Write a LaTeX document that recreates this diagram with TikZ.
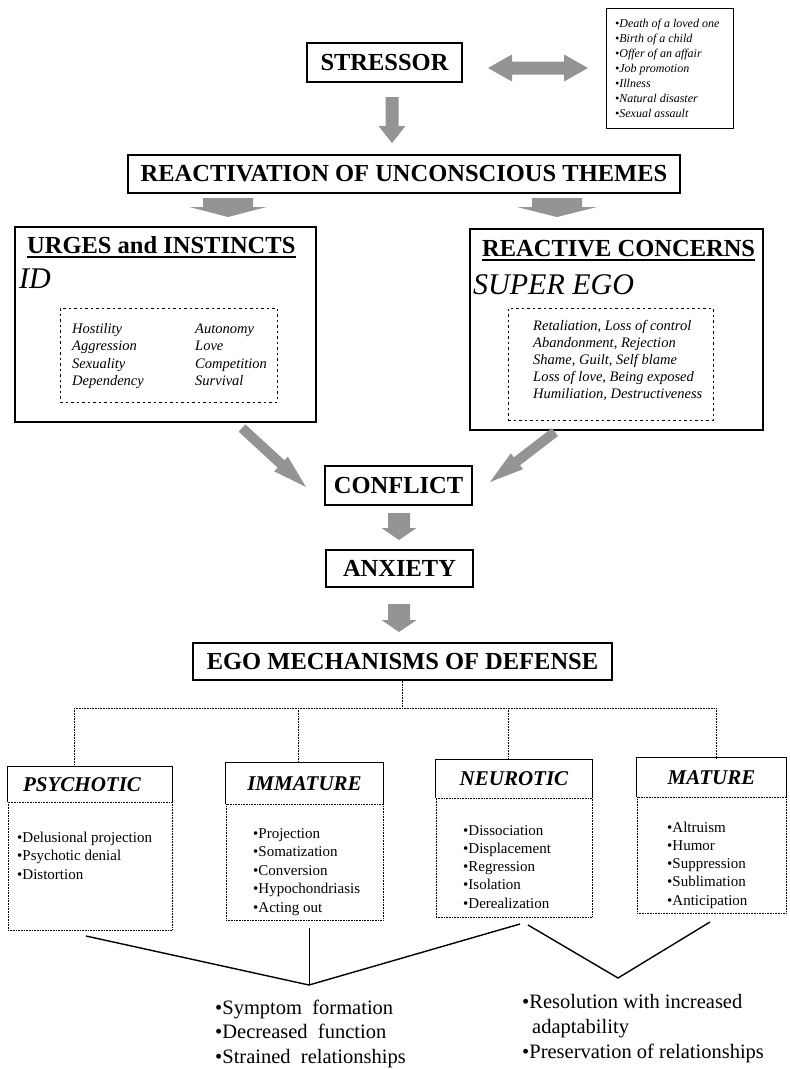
\documentclass[tikz,border=0pt]{standalone}
\usepackage{fontspec}
\setmainfont{Liberation Serif}
\usetikzlibrary{calc}

% block arrow: tail, tip, shaft half-width, head half-width, head length
\newcommand\blockarrow[5]{%
  \coordinate (ba-h) at ($(#2)!#5!(#1)$);
  \fill[arrowfill] ($(#1)!#3!90:(#2)$) -- ($(ba-h)!#3!90:(#2)$) -- ($(ba-h)!#4!90:(#2)$)
    -- (#2) -- ($(ba-h)!#4!-90:(#2)$) -- ($(ba-h)!#3!-90:(#2)$) -- ($(#1)!#3!-90:(#2)$) -- cycle;
}
% two-headed block arrow: end, end, shaft half-width, head half-width, head length
\newcommand\twinarrow[5]{%
  \coordinate (da-a) at ($(#1)!#5!(#2)$);
  \coordinate (da-b) at ($(#2)!#5!(#1)$);
  \fill[arrowfill] (#1) -- ($(da-a)!#4!90:(#2)$) -- ($(da-a)!#3!90:(#2)$)
    -- ($(da-b)!#3!-90:(#1)$) -- ($(da-b)!#4!-90:(#1)$) -- (#2)
    -- ($(da-b)!#4!90:(#1)$) -- ($(da-b)!#3!90:(#1)$)
    -- ($(da-a)!#3!-90:(#2)$) -- ($(da-a)!#4!-90:(#2)$) -- cycle;
}

\begin{document}
\begin{tikzpicture}[x=1pt,y=-1pt,
  box/.style={draw, line width=1.1pt, inner sep=0pt},
  bigtitle/.style={font=\fontsize{24.5}{28}\selectfont\bfseries},
  subtitle/.style={font=\fontsize{30}{34}\selectfont\itshape, anchor=base west, inner sep=0pt},
  arrowfill/.style={fill=black!42},
  treeline/.style={densely dotted, line width=0.6pt},
  dashbox/.style={draw, dash pattern=on 2.5pt off 3pt, line width=0.6pt, inner sep=0pt},
  item/.style={anchor=base west, inner sep=0pt},
  evitem/.style={item, font=\fontsize{12}{14}\selectfont\itshape},
  themeitem/.style={item, font=\fontsize{14.5}{17}\selectfont\itshape},
  defitem/.style={item, font=\fontsize{15}{18}\selectfont},
  outitem/.style={item, font=\fontsize{20.5}{24}\selectfont},
  cathead/.style={inner sep=0pt, font=\fontsize{21}{24}\selectfont\bfseries\itshape},
  catbody/.style={draw, densely dotted, line width=0.6pt, inner sep=0pt},
  vline/.style={line width=1.4pt}
]
\useasboundingbox (0,0) rectangle (790,1069);

% ---------- stressor and examples ----------
\node[box, bigtitle, minimum width=155pt, minimum height=39pt] (stressor) at (384.5,62.5) {STRESSOR};
\node[draw, line width=0.8pt, inner sep=0pt, minimum width=127pt, minimum height=120pt] (events) at (669.5,68) {};
\foreach \t [count=\i] in {Death of a loved one, Birth of a child, Offer of an affair,
    Job promotion, Illness, Natural disaster, Sexual assault}
  \node[evitem] (ev\i) at (615,{27+15*(\i-1)}) {\textbullet\t};

\coordinate (twinL) at (488,68);
\coordinate (twinR) at (588,68);
\twinarrow{twinL}{twinR}{6.5pt}{13.5pt}{24pt}

% ---------- reactivation ----------
\node[box, bigtitle, minimum width=552pt, minimum height=38pt] (react) at (404,174) {REACTIVATION OF UNCONSCIOUS THEMES};
\coordinate (sA) at (392,97);
\coordinate (sB) at (392,143);
\blockarrow{sA}{sB}{6.5pt}{13.5pt}{17pt}

\coordinate (rLa) at (228,198);
\coordinate (rLb) at (228,217);
\blockarrow{rLa}{rLb}{25pt}{38.5pt}{10pt}
\coordinate (rRa) at (557,198);
\coordinate (rRb) at (557,217);
\blockarrow{rRa}{rRb}{25pt}{40pt}{10pt}

% ---------- urges and instincts ----------
\node[box, minimum width=301pt, minimum height=195pt] (urges) at (165.5,324.5) {};
\node[bigtitle, anchor=base west, inner sep=0pt, text depth=0pt] (urgesT) at (27,253) {URGES and INSTINCTS};
\draw[line width=1.8pt] ([yshift=-3.5pt]urgesT.south west) -- ([yshift=-3.5pt]urgesT.south east);
\node[subtitle] (idT) at (19,288) {ID};
\node[dashbox, minimum width=217pt, minimum height=94pt] (urgesL) at (168.5,355) {};
\foreach \t [count=\i] in {Hostility, Aggression, Sexuality, Dependency}
  \node[themeitem] (ua\i) at (72,{333+17.5*(\i-1)}) {\t};
\foreach \t [count=\i] in {Autonomy, Love, Competition, Survival}
  \node[themeitem] (ub\i) at (195,{333+17.5*(\i-1)}) {\t};

% ---------- reactive concerns ----------
\node[box, minimum width=293pt, minimum height=201pt] (concerns) at (616.5,329.5) {};
\node[bigtitle, anchor=base west, inner sep=0pt, text depth=0pt] (concernsT) at (482,256) {REACTIVE CONCERNS};
\draw[line width=1.8pt] ([yshift=-3.5pt]concernsT.south west) -- ([yshift=-3.5pt]concernsT.south east);
\node[subtitle] (seT) at (473,294) {SUPER EGO};
\node[dashbox, minimum width=205pt, minimum height=112pt] (concernsL) at (610.5,364) {};
\foreach \t [count=\i] in {{Retaliation, Loss of control}, {Abandonment, Rejection},
    {Shame, Guilt, Self blame}, {Loss of love, Being exposed}, {Humiliation, Destructiveness}}
  \node[themeitem] (rc\i) at (533,{330+17*(\i-1)}) {\t};

% ---------- conflict, anxiety, ego defenses ----------
\node[box, bigtitle, minimum width=147pt, minimum height=39pt] (conflict) at (398.5,485.5) {CONFLICT};
\node[box, bigtitle, minimum width=147pt, minimum height=37pt] (anxiety) at (399.5,568.5) {ANXIETY};
\node[box, bigtitle, minimum width=419pt, minimum height=37pt] (ego) at (402.5,661.5) {EGO MECHANISMS OF DEFENSE};

\coordinate (dLa) at (242,428);
\coordinate (dLb) at (306,487);
\blockarrow{dLa}{dLb}{5pt}{10pt}{34pt}
\coordinate (dRa) at (555,432);
\coordinate (dRb) at (490,482);
\blockarrow{dRa}{dRb}{5pt}{10pt}{34pt}

\coordinate (caA) at (399,513);
\coordinate (caB) at (399,540);
\blockarrow{caA}{caB}{11pt}{17.5pt}{12pt}
\coordinate (aeA) at (399,604);
\coordinate (aeB) at (399,632);
\blockarrow{aeA}{aeB}{11pt}{17.5pt}{12pt}

% ---------- defense categories ----------
\node[cathead, minimum width=164pt, minimum height=35pt] (psyH) at (90,784.5) {\hspace*{-16pt}PSYCHOTIC};
\node[catbody, minimum width=164pt, minimum height=128pt] (psyB) at (90,866) {};
\node[cathead, minimum width=157pt, minimum height=41pt] (immH) at (304.5,783.5) {IMMATURE};
\node[catbody, minimum width=157pt, minimum height=116pt] (immB) at (304.5,862) {};
\node[cathead, minimum width=156pt, minimum height=38pt] (neuH) at (514,779) {NEUROTIC};
\node[catbody, minimum width=156pt, minimum height=119pt] (neuB) at (514,857.5) {};
\node[cathead, minimum width=149pt, minimum height=39pt] (matH) at (711.5,777.5) {MATURE};
\node[catbody, minimum width=149pt, minimum height=116pt] (matB) at (711.5,855) {};
\foreach \h in {psyH, immH, neuH, matH}
  \draw[line width=1.1pt] (\h.south west) -- (\h.north west) -- (\h.north east) -- (\h.south east);

\foreach \t [count=\i] in {Delusional projection, Psychotic denial, Distortion}
  \node[defitem] (psy\i) at (17,{842+18.7*(\i-1)}) {\textbullet\t};
\foreach \t [count=\i] in {Projection, Somatization, Conversion, Hypochondriasis, Acting out}
  \node[defitem] (imm\i) at (253,{838+18.5*(\i-1)}) {\textbullet\t};
\foreach \t [count=\i] in {Dissociation, Displacement, Regression, Isolation, Derealization}
  \node[defitem] (neu\i) at (463,{835+18.3*(\i-1)}) {\textbullet\t};
\foreach \t [count=\i] in {Altruism, Humor, Suppression, Sublimation, Anticipation}
  \node[defitem] (mat\i) at (667,{832+18.3*(\i-1)}) {\textbullet\t};

% dotted tree from the defense box to the four categories
\coordinate (bar) at (0,708);
\coordinate (tP) at (74,708);
\coordinate (tI) at (298,708);
\coordinate (tN) at (508,708);
\coordinate (tM) at (716,708);
\draw[treeline] (ego.south) -- (ego.south |- bar);
\draw[treeline] (tP) -- (tM);
\draw[treeline] (tP) -- (tP |- psyH.north);
\draw[treeline] (tI) -- (tI |- immH.north);
\draw[treeline] (tN) -- (tN |- neuH.north);
\draw[treeline] (tM) -- (tM |- matH.north);

% ---------- outcomes ----------
\coordinate (v1a) at (86,936);
\coordinate (v1b) at (309,985);
\coordinate (v1c) at (520,924);
\coordinate (v1s) at (309,928);
\coordinate (v2a) at (528,925);
\coordinate (v2b) at (618,978);
\coordinate (v2c) at (710,922);
\draw[vline] (v1a) -- (v1b) -- (v1c);
\draw[line width=0.6pt] (v1s) -- (v1b);
\draw[vline] (v2a) -- (v2b) -- (v2c);

\node[outitem] (o1) at (215,1014) {\textbullet Symptom\ \ formation};
\node[outitem] (o2) at (215,1038.5) {\textbullet Decreased\ \ function};
\node[outitem] (o3) at (215,1063) {\textbullet Strained\ \ relationships};
\node[outitem] (o4) at (522,1008) {\textbullet Resolution with increased};
\node[outitem] (o5) at (532,1033) {adaptability};
\node[outitem] (o6) at (522,1058) {\textbullet Preservation of relationships};
\end{tikzpicture}
\end{document}
